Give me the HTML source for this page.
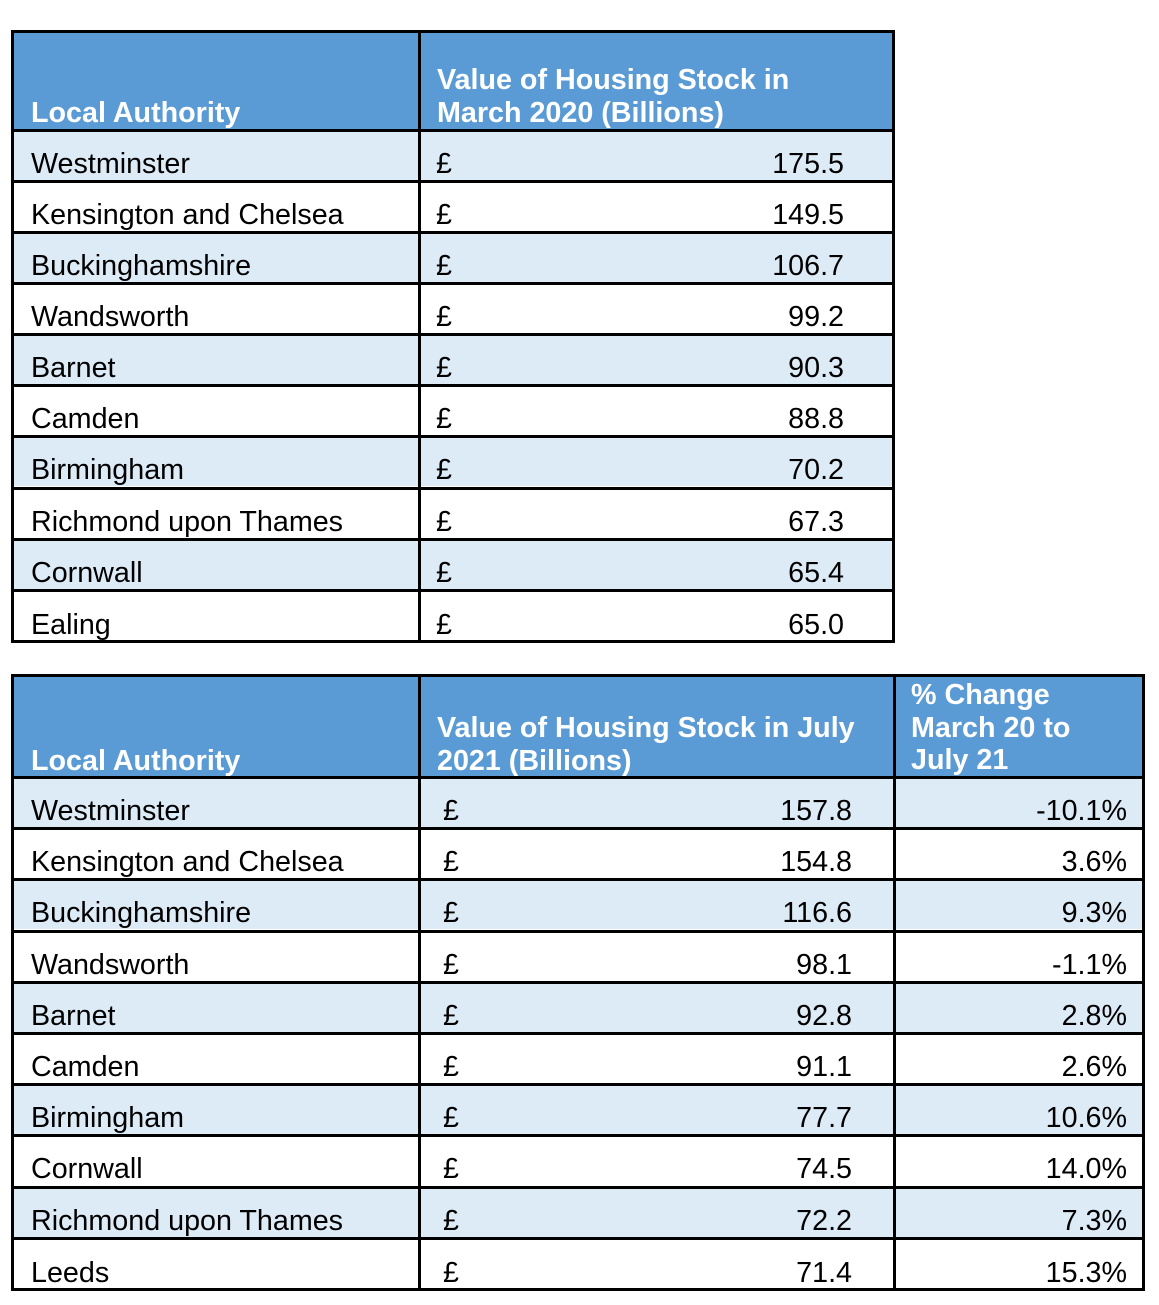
<!DOCTYPE html>
<html><head><meta charset="utf-8"><style>
body{margin:0;background:#fff;width:1159px;height:1305px;position:relative;overflow:hidden;font-family:"Liberation Sans",Arial,sans-serif;}
.t{position:absolute;border:3px solid #000;box-sizing:border-box;overflow:hidden;}
.h{position:absolute;left:0;right:0;top:0;background:#5B9BD5;}
.r{position:absolute;left:0;right:0;height:51px;border-top:3px solid #000;box-sizing:border-box;}
.l{background:#DDEBF7;}
.v{position:absolute;top:0;bottom:0;width:3px;background:#000;}
.x{position:absolute;bottom:2px;font-size:28.7px;line-height:28px;color:#000;white-space:nowrap;}
.hx{position:absolute;font-size:28.7px;line-height:32.5px;color:#fff;font-weight:bold;white-space:nowrap;}
</style></head><body>

<div class="t" style="left:11px;top:30px;width:884px;height:613px;">
 <div class="h" style="height:96px;"></div>
 <div class="hx" style="left:17px;top:64px;">Local Authority</div>
 <div class="hx" style="left:423px;top:31px;">Value of Housing Stock in<br>March 2020 (Billions)</div>
 <div class="r l" style="top:96px;"><span class="x" style="left:17px">Westminster</span><span class="x" style="left:422px">£</span><span class="x" style="right:48px">175.5</span></div>
 <div class="r" style="top:147px;"><span class="x" style="left:17px">Kensington and Chelsea</span><span class="x" style="left:422px">£</span><span class="x" style="right:48px">149.5</span></div>
 <div class="r l" style="top:198px;"><span class="x" style="left:17px">Buckinghamshire</span><span class="x" style="left:422px">£</span><span class="x" style="right:48px">106.7</span></div>
 <div class="r" style="top:249px;"><span class="x" style="left:17px">Wandsworth</span><span class="x" style="left:422px">£</span><span class="x" style="right:48px">99.2</span></div>
 <div class="r l" style="top:300px;"><span class="x" style="left:17px">Barnet</span><span class="x" style="left:422px">£</span><span class="x" style="right:48px">90.3</span></div>
 <div class="r" style="top:351px;"><span class="x" style="left:17px">Camden</span><span class="x" style="left:422px">£</span><span class="x" style="right:48px">88.8</span></div>
 <div class="r l" style="top:402px;"><span class="x" style="left:17px">Birmingham</span><span class="x" style="left:422px">£</span><span class="x" style="right:48px">70.2</span></div>
 <div class="r" style="top:454px;"><span class="x" style="left:17px">Richmond upon Thames</span><span class="x" style="left:422px">£</span><span class="x" style="right:48px">67.3</span></div>
 <div class="r l" style="top:505px;"><span class="x" style="left:17px">Cornwall</span><span class="x" style="left:422px">£</span><span class="x" style="right:48px">65.4</span></div>
 <div class="r" style="top:556px;"><span class="x" style="left:17px;bottom:1px">Ealing</span><span class="x" style="left:422px;bottom:1px">£</span><span class="x" style="right:48px;bottom:1px">65.0</span></div>
 <div class="v" style="left:404px;"></div>
</div>

<div class="t" style="left:11px;top:674px;width:1134px;height:617px;">
 <div class="h" style="height:99px;"></div>
 <div class="hx" style="left:17px;top:68px;">Local Authority</div>
 <div class="hx" style="left:423px;top:35px;">Value of Housing Stock in July<br>2021 (Billions)</div>
 <div class="hx" style="left:897px;top:2px;">% Change<br>March 20 to<br>July 21</div>
 <div class="r l" style="top:99px;"><span class="x" style="left:17px">Westminster</span><span class="x" style="left:429px">£</span><span class="x" style="right:290px">157.8</span><span class="x" style="right:15px">-10.1%</span></div>
 <div class="r" style="top:150px;"><span class="x" style="left:17px">Kensington and Chelsea</span><span class="x" style="left:429px">£</span><span class="x" style="right:290px">154.8</span><span class="x" style="right:15px">3.6%</span></div>
 <div class="r l" style="top:201px;"><span class="x" style="left:17px">Buckinghamshire</span><span class="x" style="left:429px">£</span><span class="x" style="right:290px">116.6</span><span class="x" style="right:15px">9.3%</span></div>
 <div class="r" style="top:253px;"><span class="x" style="left:17px">Wandsworth</span><span class="x" style="left:429px">£</span><span class="x" style="right:290px">98.1</span><span class="x" style="right:15px">-1.1%</span></div>
 <div class="r l" style="top:304px;"><span class="x" style="left:17px">Barnet</span><span class="x" style="left:429px">£</span><span class="x" style="right:290px">92.8</span><span class="x" style="right:15px">2.8%</span></div>
 <div class="r" style="top:355px;"><span class="x" style="left:17px">Camden</span><span class="x" style="left:429px">£</span><span class="x" style="right:290px">91.1</span><span class="x" style="right:15px">2.6%</span></div>
 <div class="r l" style="top:406px;"><span class="x" style="left:17px">Birmingham</span><span class="x" style="left:429px">£</span><span class="x" style="right:290px">77.7</span><span class="x" style="right:15px">10.6%</span></div>
 <div class="r" style="top:457px;"><span class="x" style="left:17px">Cornwall</span><span class="x" style="left:429px">£</span><span class="x" style="right:290px">74.5</span><span class="x" style="right:15px">14.0%</span></div>
 <div class="r l" style="top:509px;"><span class="x" style="left:17px">Richmond upon Thames</span><span class="x" style="left:429px">£</span><span class="x" style="right:290px">72.2</span><span class="x" style="right:15px">7.3%</span></div>
 <div class="r" style="top:560px;"><span class="x" style="left:17px;bottom:1px">Leeds</span><span class="x" style="left:429px;bottom:1px">£</span><span class="x" style="right:290px;bottom:1px">71.4</span><span class="x" style="right:15px;bottom:1px">15.3%</span></div>
 <div class="v" style="left:404px;"></div>
 <div class="v" style="left:879px;"></div>
</div>

</body></html>
